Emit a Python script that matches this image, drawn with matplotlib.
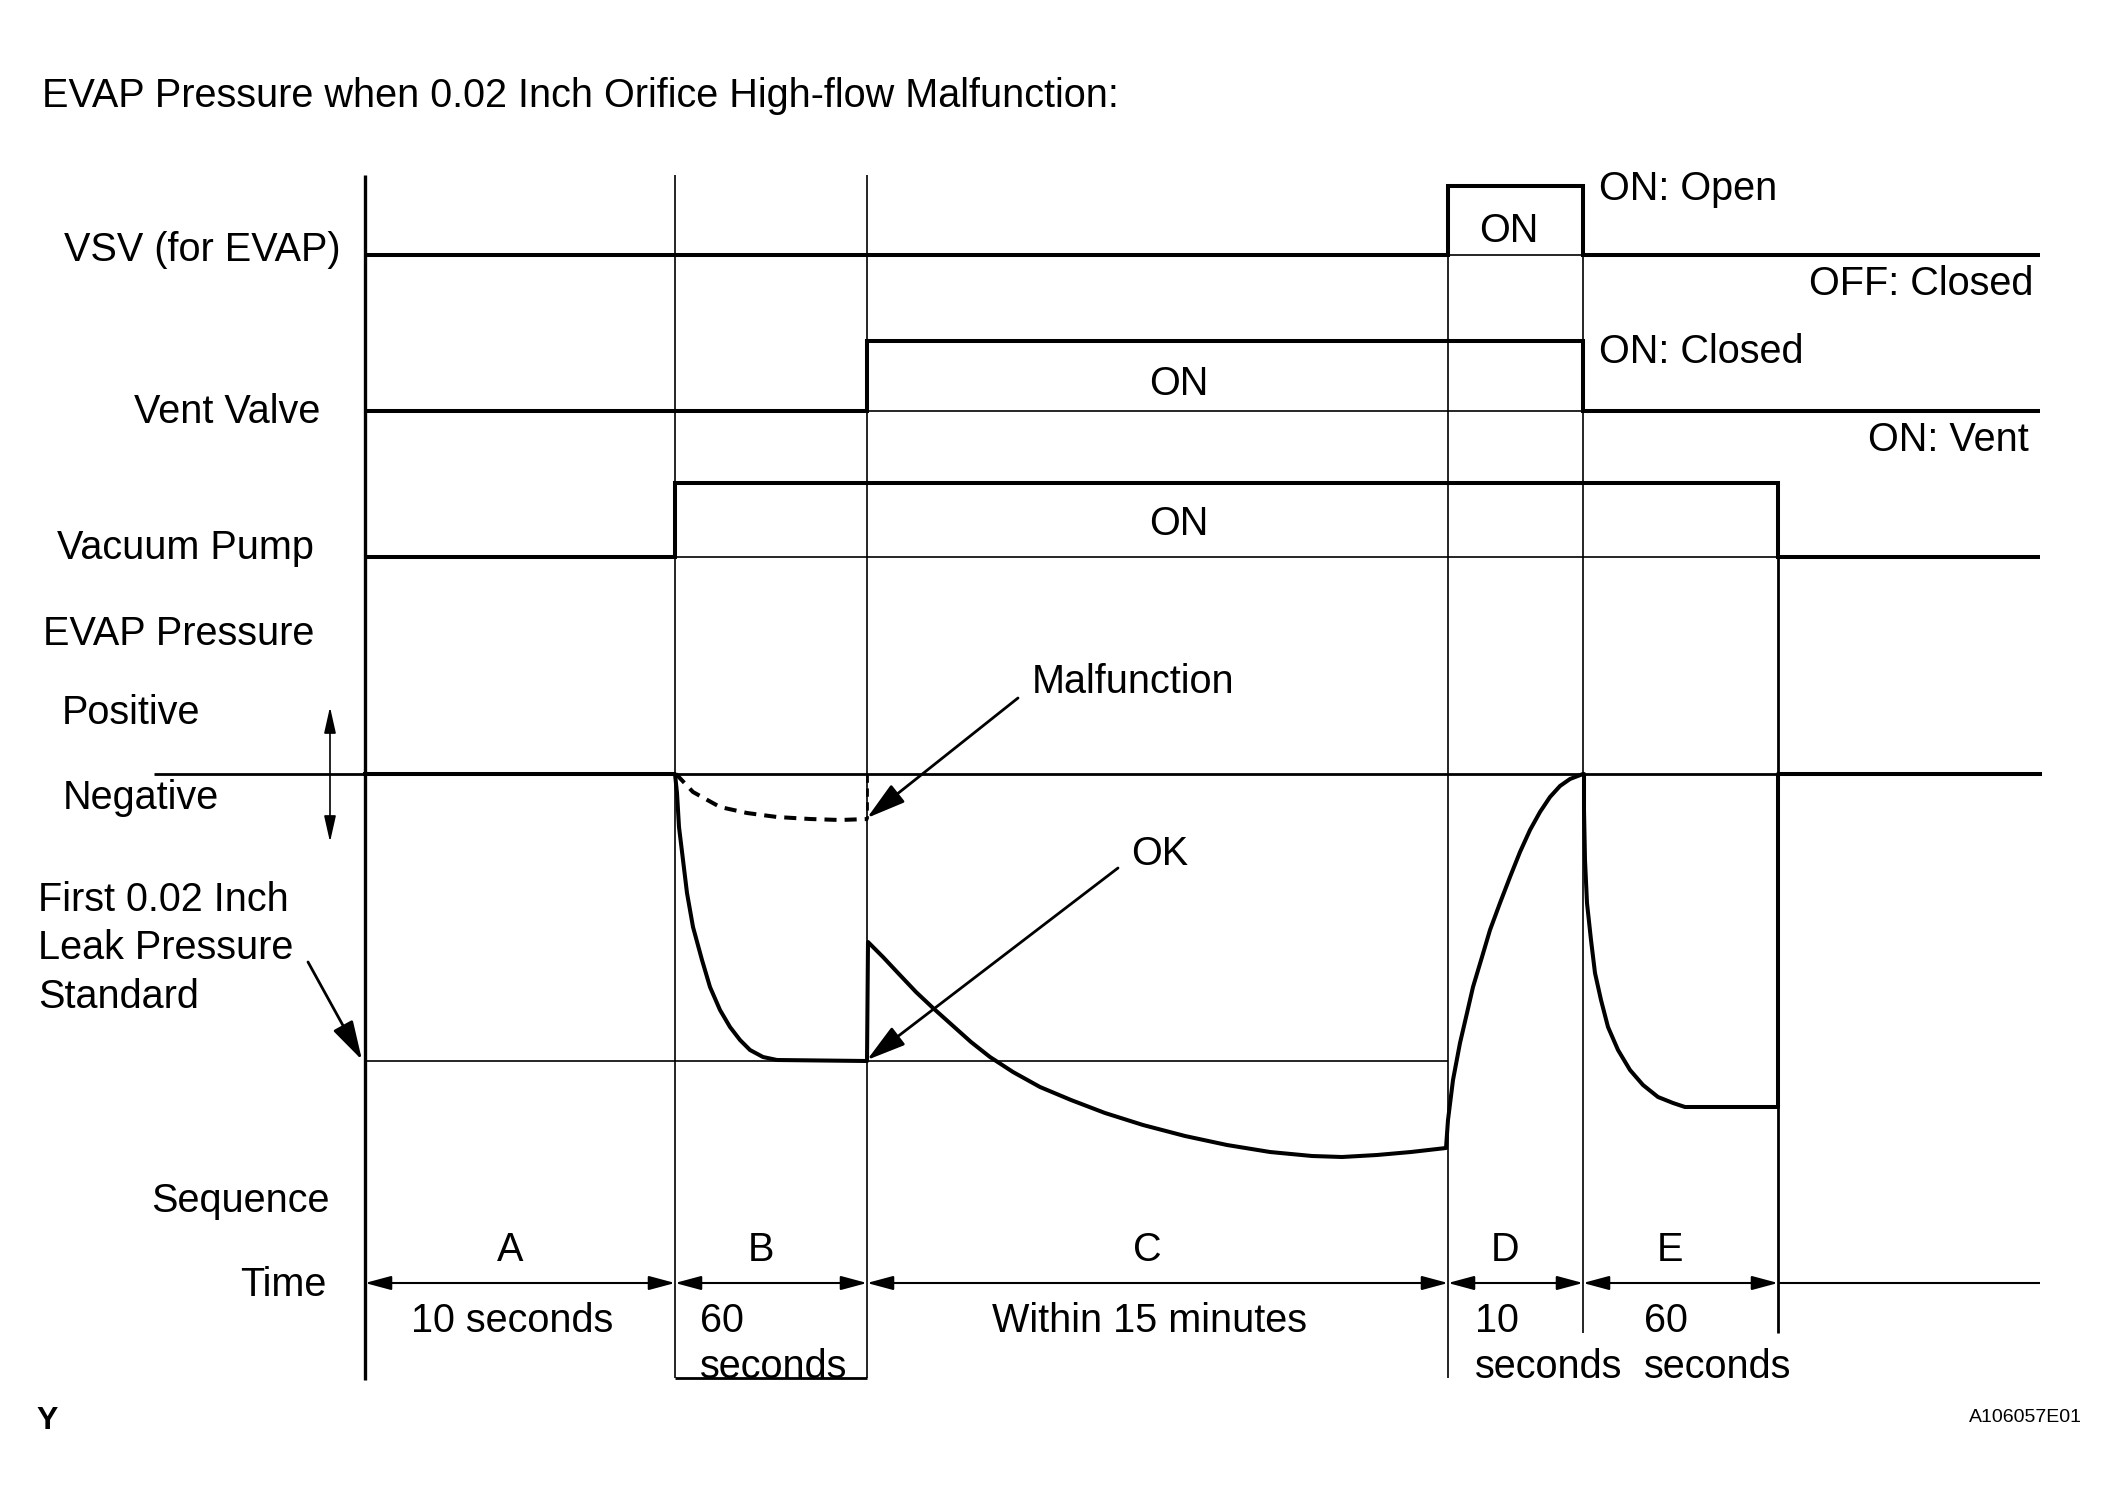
import matplotlib
matplotlib.use('Agg')
import matplotlib.pyplot as plt

plt.rcParams['font.family'] = ['Liberation Sans', 'DejaVu Sans']

# time axis: phase boundaries (diagram x units) and labels
phase_edges = [365, 675, 867, 1448, 1583, 1778]
line_end = 2040
phase_names = ['A', 'B', 'C', 'D', 'E']
phase_times = [['10 seconds'], ['60', 'seconds'], ['Within 15 minutes'],
               ['10', 'seconds'], ['60', 'seconds']]

# ON/OFF state of each signal in phases A..E and after E
vsv_on = [0, 0, 0, 1, 0, 0]
vent_on = [0, 0, 1, 1, 0, 0]
pump_on = [0, 1, 1, 1, 1, 0]

# EVAP pressure trace (diagram units, y down)
# phase A + B: drop to the leak standard
evap_b_x = [365, 675, 677, 679, 683, 687, 693, 702, 710, 720, 730, 740, 750, 763, 777, 867]
evap_b_y = [774, 774, 793, 827, 860, 893, 927, 960, 987, 1010, 1027, 1040, 1050, 1057, 1060, 1061]
# phase C: jump up then slow decay
evap_c_x = [867, 868, 883, 898, 916, 933, 952, 971, 990, 1013, 1040, 1071, 1105, 1143,
            1185, 1227, 1270, 1312, 1342, 1377, 1411, 1446]
evap_c_y = [1061, 942, 957, 973, 992, 1008, 1025, 1042, 1057, 1072, 1087, 1100, 1113, 1125,
            1136, 1145, 1152, 1156, 1157, 1155, 1152, 1148]
# phase D: recovery to zero
evap_d_x = [1448, 1453, 1460, 1467, 1473, 1482, 1490, 1500, 1510, 1520, 1530, 1540,
            1550, 1560, 1570, 1583]
evap_d_y = [1120, 1080, 1043, 1013, 987, 957, 930, 903, 877, 852, 830, 812,
            797, 786, 779, 774]
# phase E and after
evap_e_x = [1584, 1584, 1585, 1587, 1591, 1595, 1601, 1608, 1618, 1630, 1643, 1658,
            1673, 1685, 1778, 1778, 2040]
evap_e_y = [774, 810, 860, 903, 940, 973, 1000, 1027, 1050, 1070, 1085, 1097,
            1103, 1107, 1107, 774, 774]
# malfunction case (dashed)
malf_x = [676, 693, 720, 747, 777, 810, 840, 868]
malf_y = [774, 792, 807, 813, 817, 819, 820, 819]

zero_y = 774
std_y = 1061

fig = plt.figure(figsize=(21.18, 15.08), dpi=100)
ax = fig.add_axes([0, 0, 1, 1])
ax.set_xlim(0, 2118)
ax.set_ylim(1508, 0)
ax.axis('off')

FS = 28.5
THICK = 2.9
THIN = 1.2
k = dict(color='black', solid_capstyle='butt', solid_joinstyle='miter')

# vertical phase lines
x0, x1, x2, x3, x4, x5 = phase_edges
ax.plot([x0, x0], [175, 1380], lw=2.4, **k)
ax.plot([x1, x1], [175, 1378], lw=THIN, **k)
ax.plot([x2, x2], [175, 1378], lw=THIN, **k)
ax.plot([x3, x3], [185, 1378], lw=THIN, **k)
ax.plot([x4, x4], [185, 1333], lw=THIN, **k)
ax.plot([x5, x5], [483, 1333], lw=2.0, **k)


def signal(states, low, high):
    ax.plot([x0, line_end], [low, low], lw=THIN, **k)
    xs = [x0] + phase_edges[1:] + [line_end]
    px, py = [], []
    for i, s in enumerate(states):
        lvl = high if s else low
        px += [xs[i], xs[i + 1]]
        py += [lvl, lvl]
    ax.plot(px, py, lw=THICK, **k)


signal(vsv_on, 255, 186)
signal(vent_on, 411, 341)
signal(pump_on, 557, 483)

# EVAP pressure
ax.plot([154, line_end], [zero_y, zero_y], lw=2.0, **k)
ax.plot([x0, x3], [std_y, std_y], lw=THIN, **k)
evap_x = evap_b_x + evap_c_x + evap_d_x + evap_e_x
evap_y = evap_b_y + evap_c_y + evap_d_y + evap_e_y
ax.plot(evap_x, evap_y, lw=THICK, color='black', solid_joinstyle='round')
ax.plot(malf_x, malf_y, lw=THICK, color='black', dashes=(3, 2))
ax.plot([x2, x2], [zero_y, 819], lw=2.0, color='black', dashes=(3, 2))

# time row
ty = 1283
ax.plot([x5, line_end], [ty, ty], lw=1.5, **k)
for a, b in zip(phase_edges[:-1], phase_edges[1:]):
    ax.annotate('', xy=(b, ty), xytext=(a, ty),
                arrowprops=dict(arrowstyle='<|-|>,head_length=1.6,head_width=0.43',
                                mutation_scale=10, lw=1.5, color='black',
                                shrinkA=0, shrinkB=0))
ax.plot([x1, x2], [1378, 1378], lw=2.0, **k)

# annotation arrows
arr = dict(arrowstyle='-|>,head_length=2.4,head_width=0.68', mutation_scale=10,
           lw=2.0, color='black', shrinkA=0, shrinkB=0)
ax.annotate('', xy=(867, 818), xytext=(1018, 698), arrowprops=arr)
ax.annotate('', xy=(867, 1060), xytext=(1118, 868), arrowprops=arr)
ax.annotate('', xy=(362, 1060), xytext=(308, 962), arrowprops=arr)
ax.annotate('', xy=(330, 842), xytext=(330, 707),
            arrowprops=dict(arrowstyle='<|-|>,head_length=1.6,head_width=0.36',
                            mutation_scale=10, lw=1.2, color='black',
                            shrinkA=0, shrinkB=0))

# texts
t = dict(fontsize=FS, va='center_baseline')
ax.text(42, 92, 'EVAP Pressure when 0.02 Inch Orifice High-flow Malfunction:', **t)
ax.text(64, 246, 'VSV (for EVAP)', **t)
ax.text(134, 408, 'Vent Valve', **t)
ax.text(57, 544, 'Vacuum Pump', **t)
ax.text(43, 630, 'EVAP Pressure', **t)
ax.text(62, 709, 'Positive', **t)
ax.text(63, 794, 'Negative', **t)
ax.text(38, 896, 'First 0.02 Inch', **t)
ax.text(38, 944, 'Leak Pressure', **t)
ax.text(38, 993, 'Standard', **t)
ax.text(151, 1197, 'Sequence', **t)
ax.text(240, 1281, 'Time', **t)

ax.text(1509, 227, 'ON', ha='center', **t)
ax.text(1179, 380, 'ON', ha='center', **t)
ax.text(1179, 520, 'ON', ha='center', **t)
ax.text(1599, 185, 'ON: Open', **t)
ax.text(2033, 280, 'OFF: Closed', ha='right', **t)
ax.text(1599, 348, 'ON: Closed', **t)
ax.text(2029, 436, 'ON: Vent', ha='right', **t)
ax.text(1032, 678, 'Malfunction', **t)
ax.text(1131, 850, 'OK', **t)

time_x = [(512, 'center'), (700, 'left'), (1150, 'center'), (1475, 'left'), (1644, 'left')]
for i, name in enumerate(phase_names):
    mid = (phase_edges[i] + phase_edges[i + 1]) / 2
    ax.text(mid - 10, 1246, name, ha='center', **t)
    tx, h = time_x[i]
    for j, line in enumerate(phase_times[i]):
        ax.text(tx, 1317 + 46 * j, line, ha=h, **t)

ax.text(47, 1421, 'Y', fontsize=23, fontweight='bold', ha='center', va='center')
ax.text(2082, 1416, 'A106057E01', fontsize=14, ha='right', va='center_baseline')

fig.savefig('out.png', dpi=100)
